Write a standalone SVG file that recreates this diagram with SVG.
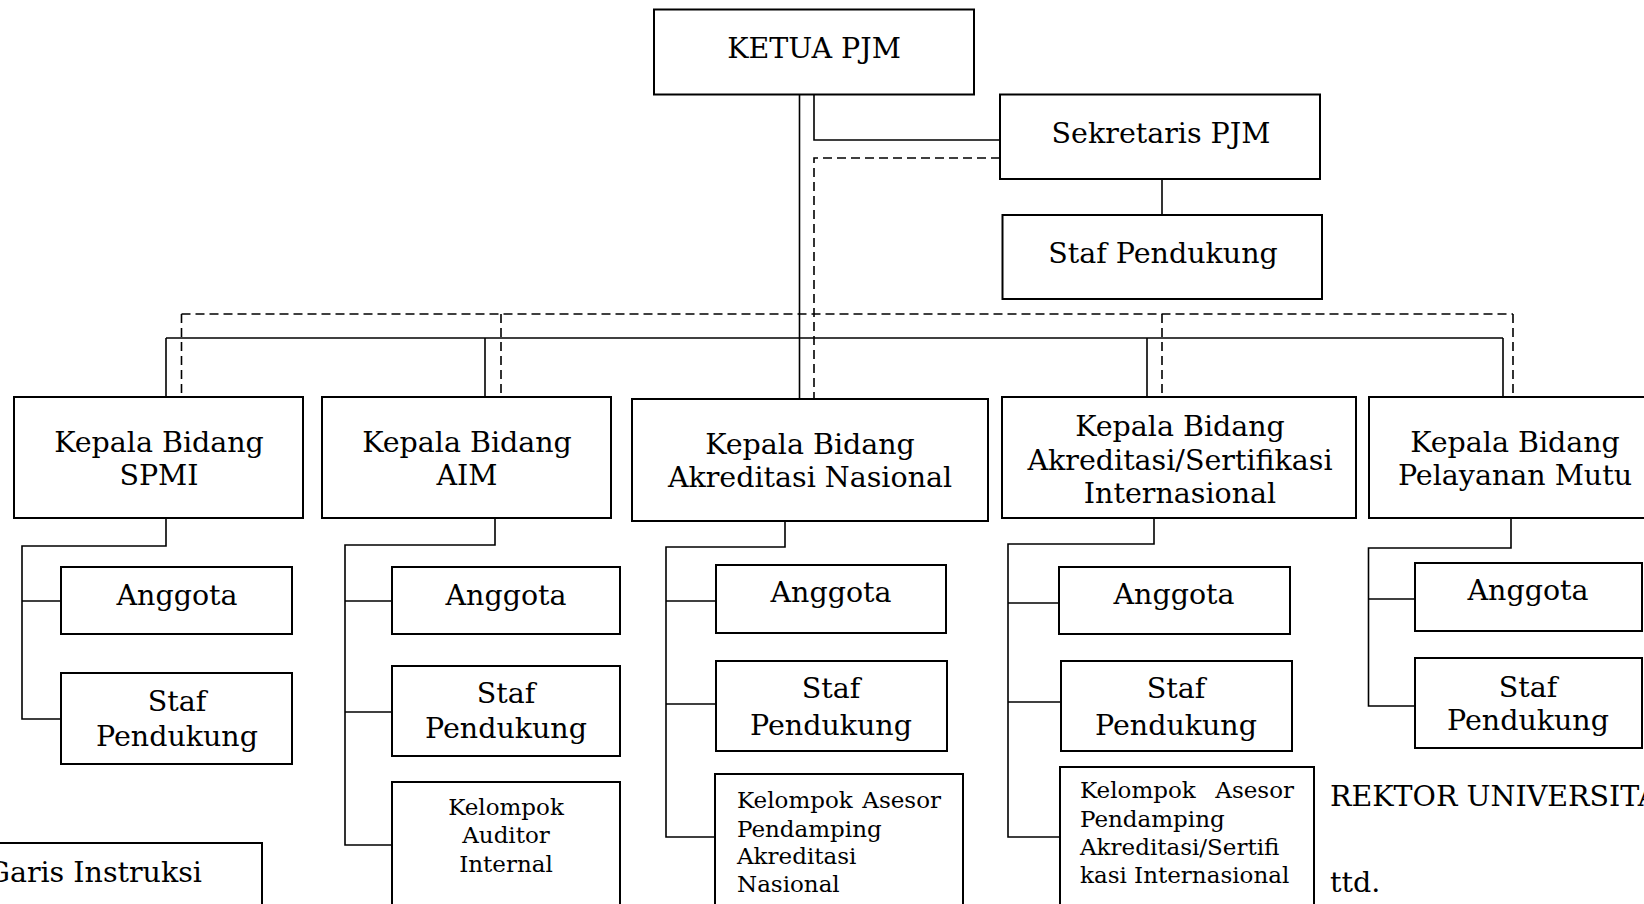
<svg xmlns="http://www.w3.org/2000/svg" width="1644" height="904" viewBox="0 0 1644 904">
<style>
.box{fill:#fff;stroke:#000;stroke-width:2}
.ln{fill:none;stroke:#000;stroke-width:1.6}
.dash{fill:none;stroke:#000;stroke-width:1.6;stroke-dasharray:9 5}
text{font-family:"DejaVu Serif","Liberation Serif",serif;fill:#000}
.t{font-size:28.5px;text-anchor:middle}
.s{font-size:23px}
.sm{font-size:23px;text-anchor:middle}
</style>
<rect width="1644" height="904" fill="#fff"/>
<g id="connectors">
<polyline class="ln" points="814,94.5 814,140 1000,140"/>
<line class="ln" x1="1162" y1="179" x2="1162" y2="215"/>
<line class="ln" x1="799.5" y1="94.5" x2="799.5" y2="399"/>
<line class="ln" x1="166" y1="338" x2="1503" y2="338"/>
<line class="ln" x1="166" y1="338" x2="166" y2="397"/>
<line class="ln" x1="485" y1="338" x2="485" y2="397"/>
<line class="ln" x1="1147" y1="338" x2="1147" y2="397"/>
<line class="ln" x1="1503" y1="338" x2="1503" y2="397"/>
<polyline class="dash" points="1000,158 814,158 814,399"/>
<line class="dash" x1="181.5" y1="314" x2="1513" y2="314"/>
<line class="dash" x1="181.5" y1="314" x2="181.5" y2="397"/>
<line class="dash" x1="501" y1="314" x2="501" y2="397"/>
<line class="dash" x1="1162" y1="314" x2="1162" y2="397"/>
<line class="dash" x1="1513" y1="314" x2="1513" y2="397"/>
<polyline class="ln" points="166,518 166,546 22,546 22,719 61,719"/>
<line class="ln" x1="22" y1="601" x2="61" y2="601"/>
<polyline class="ln" points="495,518 495,545 345,545 345,845 392,845"/>
<line class="ln" x1="345" y1="601" x2="392" y2="601"/>
<line class="ln" x1="345" y1="712" x2="392" y2="712"/>
<polyline class="ln" points="785,521 785,547 666,547 666,837 715,837"/>
<line class="ln" x1="666" y1="601" x2="716" y2="601"/>
<line class="ln" x1="666" y1="704" x2="716" y2="704"/>
<polyline class="ln" points="1154,518 1154,544 1008,544 1008,837 1060,837"/>
<line class="ln" x1="1008" y1="603" x2="1059" y2="603"/>
<line class="ln" x1="1008" y1="702" x2="1061" y2="702"/>
<polyline class="ln" points="1511,518 1511,548 1368.5,548 1368.5,706 1415,706"/>
<line class="ln" x1="1368.5" y1="599" x2="1415" y2="599"/>
</g>
<g id="ketua"><rect class="box" x="654" y="9.5" width="320" height="85"/><text class="t" x="814" y="58">KETUA PJM</text></g>
<g id="sekretaris"><rect class="box" x="1000" y="94.5" width="320" height="84.5"/><text class="t" x="1161" y="143">Sekretaris PJM</text></g>
<g id="staf-sekretaris"><rect class="box" x="1002.5" y="215" width="319.5" height="84"/><text class="t" x="1163" y="263">Staf Pendukung</text></g>
<g id="kb-spmi"><rect class="box" x="14" y="397" width="289" height="121"/><text class="t" x="159" y="452">Kepala Bidang</text><text class="t" x="159" y="485">SPMI</text></g>
<g id="kb-aim"><rect class="box" x="322" y="397" width="289" height="121"/><text class="t" x="467" y="452">Kepala Bidang</text><text class="t" x="467" y="485">AIM</text></g>
<g id="kb-nasional"><rect class="box" x="632" y="399" width="356" height="122"/><text class="t" x="810" y="454">Kepala Bidang</text><text class="t" x="810" y="487">Akreditasi Nasional</text></g>
<g id="kb-internasional"><rect class="box" x="1002" y="397" width="354" height="121"/><text class="t" x="1180" y="436">Kepala Bidang</text><text class="t" x="1180" y="470">Akreditasi/Sertifikasi</text><text class="t" x="1180" y="503">Internasional</text></g>
<g id="kb-pelayanan"><rect class="box" x="1369" y="397" width="280" height="121"/><text class="t" x="1515" y="452">Kepala Bidang</text><text class="t" x="1515" y="485">Pelayanan Mutu</text></g>
<g id="spmi-anggota"><rect class="box" x="61" y="567" width="231" height="67"/><text class="t" x="177" y="605">Anggota</text></g>
<g id="spmi-staf"><rect class="box" x="61" y="673" width="231" height="91"/><text class="t" x="177" y="711">Staf</text><text class="t" x="177" y="746">Pendukung</text></g>
<g id="aim-anggota"><rect class="box" x="392" y="567" width="228" height="67"/><text class="t" x="506" y="605">Anggota</text></g>
<g id="aim-staf"><rect class="box" x="392" y="666" width="228" height="90"/><text class="t" x="506" y="703">Staf</text><text class="t" x="506" y="738">Pendukung</text></g>
<g id="aim-kelompok"><rect class="box" x="392" y="782" width="228" height="140"/><text class="sm" x="506" y="815">Kelompok</text><text class="sm" x="506" y="843">Auditor</text><text class="sm" x="506" y="872">Internal</text></g>
<g id="nas-anggota"><rect class="box" x="716" y="565" width="230" height="68"/><text class="t" x="831" y="602">Anggota</text></g>
<g id="nas-staf"><rect class="box" x="716" y="661" width="231" height="90"/><text class="t" x="831" y="698">Staf</text><text class="t" x="831" y="735">Pendukung</text></g>
<g id="nas-kelompok"><rect class="box" x="715" y="774" width="248" height="150"/><text class="s" x="737" y="808">Kelompok</text><text class="s" x="941" y="808" text-anchor="end">Asesor</text><text class="s" x="737" y="837">Pendamping</text><text class="s" x="737" y="864">Akreditasi</text><text class="s" x="737" y="892">Nasional</text></g>
<g id="int-anggota"><rect class="box" x="1059" y="567" width="231" height="67"/><text class="t" x="1174" y="604">Anggota</text></g>
<g id="int-staf"><rect class="box" x="1061" y="661" width="231" height="90"/><text class="t" x="1176" y="698">Staf</text><text class="t" x="1176" y="735">Pendukung</text></g>
<g id="int-kelompok"><rect class="box" x="1060" y="767" width="254" height="160"/><text class="s" x="1080" y="798">Kelompok</text><text class="s" x="1294" y="798" text-anchor="end">Asesor</text><text class="s" x="1080" y="827">Pendamping</text><text class="s" x="1080" y="855">Akreditasi/Sertifi</text><text class="s" x="1080" y="883">kasi Internasional</text></g>
<g id="pel-anggota"><rect class="box" x="1415" y="563" width="227" height="68"/><text class="t" x="1528" y="600">Anggota</text></g>
<g id="pel-staf"><rect class="box" x="1415" y="658" width="227" height="90"/><text class="t" x="1528" y="697">Staf</text><text class="t" x="1528" y="730">Pendukung</text></g>
<g id="legend"><rect class="box" x="-20" y="843" width="282" height="80"/><text class="t" x="202" y="882" style="text-anchor:end">Garis Instruksi</text></g>
<g id="signature"><text x="1330" y="806" font-size="28.5">REKTOR UNIVERSITAS</text><text x="1330" y="892" font-size="28.5">ttd.</text></g>
</svg>
